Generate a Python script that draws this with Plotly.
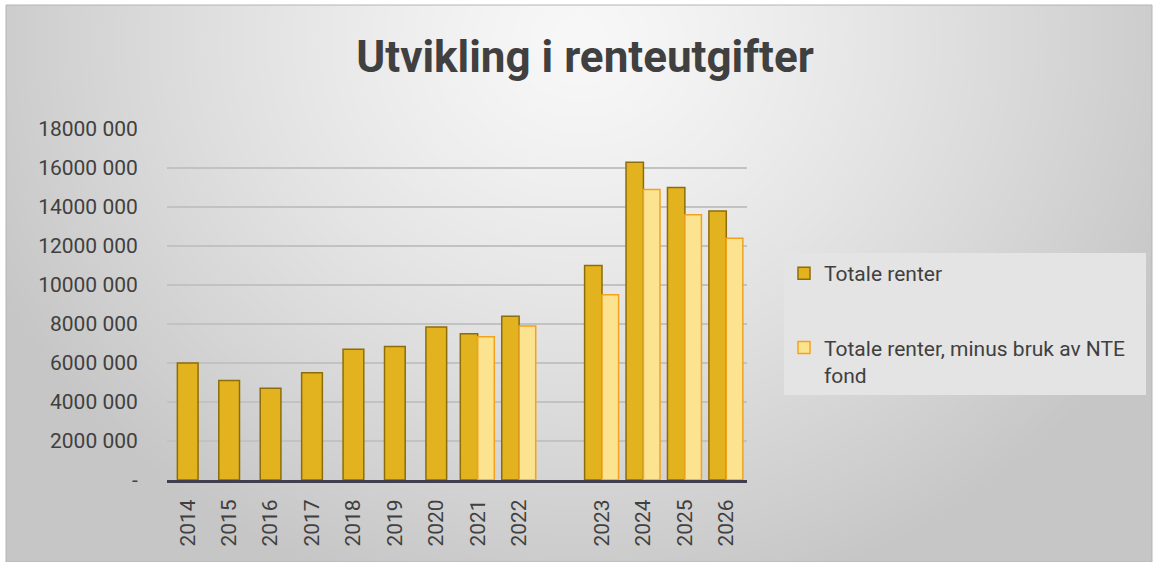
import base64
import struct
import zlib

import numpy as np
import plotly.graph_objects as go

# ---------------- data ----------------
years = ["2014", "2015", "2016", "2017", "2018", "2019", "2020", "2021", "2022",
         " ", "2023", "2024", "2025", "2026"]
totale_renter = [6.0e6, 5.1e6, 4.7e6, 5.5e6, 6.7e6, 6.85e6, 7.85e6, 7.5e6, 8.4e6,
                 None, 11.0e6, 16.3e6, 15.0e6, 13.8e6]
minus_nte = [None, None, None, None, None, None, None, 7.35e6, 7.9e6,
             None, 9.5e6, 14.9e6, 13.6e6, 12.4e6]
y_tickvals = [0, 2e6, 4e6, 6e6, 8e6, 10e6, 12e6, 14e6, 16e6, 18e6]
y_ticktext = ["-", "2000 000", "4000 000", "6000 000", "8000 000", "10000 000",
              "12000 000", "14000 000", "16000 000", "18000 000"]
title_text = "Utvikling i renteutgifter"
name1 = "Totale renter"
name2 = "Totale renter, minus bruk av NTE&nbsp;&nbsp;&nbsp;<br>fond"

W, H = 1155, 562
FONT = "Roboto"
TXT = "#404040"


# ---------------- background gradient (png) ----------------
def png_uri(arr):
    h, w = arr.shape
    raw = b"".join(b"\x00" + arr[i].tobytes() for i in range(h))

    def chunk(t, d):
        c = struct.pack(">I", len(d)) + t + d
        return c + struct.pack(">I", zlib.crc32(t + d) & 0xFFFFFFFF)

    png = (b"\x89PNG\r\n\x1a\n"
           + chunk(b"IHDR", struct.pack(">IIBBBBB", w, h, 8, 0, 0, 0, 0))
           + chunk(b"IDAT", zlib.compress(raw, 9))
           + chunk(b"IEND", b""))
    return "data:image/png;base64," + base64.b64encode(png).decode()


bx0, by0, bx1, by1 = 6, 5, 1152, 562
bw, bh = bx1 - bx0, by1 - by0
xx, yy = np.meshgrid(np.arange(bw) + bx0, np.arange(bh) + by0)
d = np.sqrt(((xx - 580) / 650.0) ** 2 + ((yy - 40) / 580.0) ** 2)
d = np.clip(d, 0, 1)
val = 248 - (248 - 198) * d ** 1.25
bg = val.astype(np.uint8)

# ---------------- bar geometry ----------------
single = [b is None for b in minus_nte]
off1 = [-0.25 if s else -0.42 for s in single]
wid1 = [0.5 if s else 0.42 for s in single]

fig = go.Figure()
fig.add_trace(go.Bar(
    x=years, y=totale_renter, name=name1, legendgroup="a",
    offset=off1, width=wid1,
    marker=dict(color="#E3B31F", line=dict(color="#8C6D0A", width=1.5)),
    hoverinfo="skip",
))
fig.add_trace(go.Bar(
    x=years, y=minus_nte, name=name2, legendgroup="b",
    offset=0.0, width=0.4,
    marker=dict(color="#FCE38F", line=dict(color="#F2A21F", width=1.5)),
    hoverinfo="skip",
))

px0, px1 = 167, 747
py0, py1 = 480, 129

fig.update_layout(
    width=W, height=H,
    margin=dict(l=0, r=0, t=0, b=0, autoexpand=False),
    paper_bgcolor="white",
    plot_bgcolor="rgba(0,0,0,0)",
    barmode="overlay",
    font=dict(family=FONT, color=TXT, size=21),
    title=dict(text=title_text, x=585 / W, xanchor="center", y=1 - 57 / H,
               yanchor="middle", automargin=False,
               font=dict(family=FONT, size=44, color=TXT, weight="bold")),
    xaxis=dict(
        domain=[px0 / W, px1 / W], range=[-0.5, len(years) - 0.5],
        type="category", tickangle=-90, showgrid=False, automargin=False,
        showline=True, linecolor="#3F3F4F", linewidth=3,
        ticks="outside", ticklen=8, tickcolor="rgba(0,0,0,0)",
        tickfont=dict(family=FONT, size=21, color=TXT), fixedrange=True,
    ),
    yaxis=dict(
        domain=[1 - py0 / H, 1 - py1 / H], range=[0, 18e6],
        tickvals=y_tickvals, ticktext=y_ticktext, automargin=False,
        showgrid=True, gridcolor="#C2C2C2", gridwidth=1.2,
        zeroline=False, showline=False,
        ticks="outside", ticklen=24, tickcolor="rgba(0,0,0,0)",
        tickfont=dict(family=FONT, size=21, color=TXT), fixedrange=True,
    ),
    legend=dict(
        x=784 / W, y=1 - 253 / H, xanchor="left", yanchor="top",
        bgcolor="#E4E4E4", borderwidth=0, tracegroupgap=44,
        itemwidth=30, font=dict(family=FONT, size=21, color=TXT),
        traceorder="grouped", valign="top",
    ),
    images=[dict(source=png_uri(bg), xref="paper", yref="paper",
                 x=bx0 / W, y=1 - by0 / H, sizex=bw / W, sizey=bh / H,
                 xanchor="left", yanchor="top", sizing="stretch",
                 layer="below")],
    shapes=[dict(type="rect", xref="paper", yref="paper",
                 x0=bx0 / W, x1=bx1 / W, y0=0, y1=1 - by0 / H,
                 line=dict(color="#B4B4B4", width=1), layer="below")],
)

fig.write_html(
    "out.html",
    config={"displayModeBar": False, "staticPlot": True},
    post_script="document.body.style.margin='0';document.body.style.overflow='hidden';",
)
